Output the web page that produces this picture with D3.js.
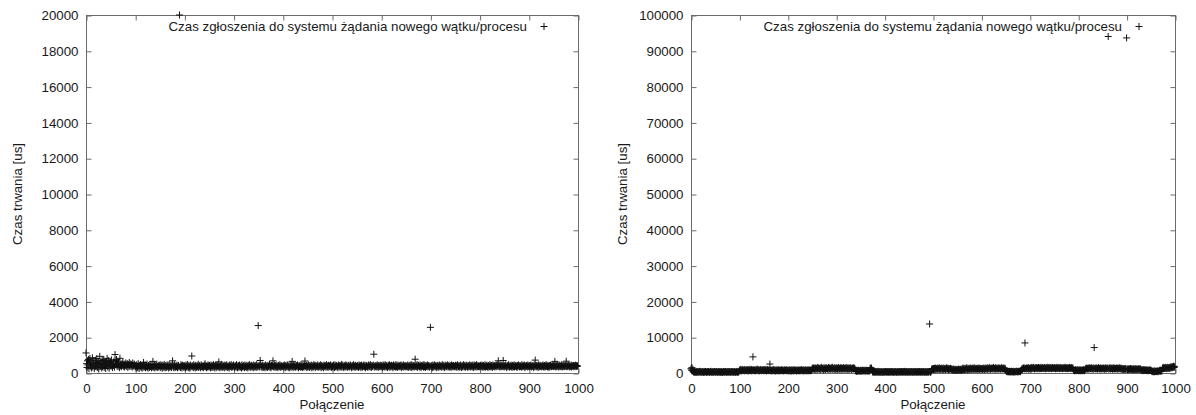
<!DOCTYPE html>
<html>
<head>
<meta charset="utf-8">
<script src="https://cdn.jsdelivr.net/npm/d3@7"></script>
<style>
html,body{margin:0;padding:0;background:#fff;}
svg text{font-family:"Liberation Sans",Arial,Helvetica,sans-serif;}
</style>
</head>
<body>
<svg id="chart" width="1196" height="415"></svg>
<script>
// ---------- data ----------
const legendLabel = "Czas zgłoszenia do systemu żądania nowego wątku/procesu";
const xLabel = "Połączenie";
const yLabel = "Czas trwania [us]";
const xTicks = [0,100,200,300,400,500,600,700,800,900,1000];
const leftYTicks = [0,2000,4000,6000,8000,10000,12000,14000,16000,18000,20000];
const rightYTicks = [0,10000,20000,30000,40000,50000,60000,70000,80000,90000,100000];

// left panel: duration [us] per connection index 0..999
const leftValues = [
1120,520,310,680,450,760,240,580,820,390,620,280,470,850,330,540,690,260,410,720,360,590,810,300,480,650,220,530,930,370,440,610,280,700,350,520,760,310,460,580,250,640,430,820,340,500,690,270,560,410,
620,380,730,460,300,540,420,650,330,1030,480,700,750,390,520,360,610,440,300,820,400,480,350,520,430,610,380,460,330,500,420,560,370,450,520,310,480,400,590,360,440,510,380,470,330,560,420,390,500,450,
340,410,280,460,370,300,520,390,250,430,360,480,310,400,270,440,350,590,320,380,460,290,410,350,500,330,270,420,380,310,470,360,430,290,400,340,650,380,310,450,280,370,420,330,490,360,300,410,350,440,
380,300,460,350,410,270,430,320,390,480,340,290,420,370,310,450,360,400,280,470,330,390,350,430,300,380,680,410,340,290,460,370,320,400,350,440,290,380,420,330,20000,360,310,470,390,280,430,350,400,320,
410,350,290,440,370,320,480,380,300,420,360,270,450,330,390,950,350,410,300,460,340,380,280,430,370,320,400,350,490,310,380,420,340,290,460,360,400,330,380,300,440,370,520,350,410,290,390,340,460,380,
330,420,370,290,450,380,310,400,350,470,320,390,280,430,360,410,300,380,450,340,620,370,290,420,360,330,480,390,310,400,350,440,290,380,420,330,460,370,310,400,350,280,440,390,360,470,320,410,340,380,
450,360,300,410,380,330,470,350,290,420,390,310,440,370,340,400,280,460,360,330,410,380,300,450,350,390,320,430,370,280,410,360,480,340,390,310,430,370,350,400,290,450,380,330,420,360,310,470,390,340,
2650,380,420,330,700,460,350,390,300,440,370,320,410,360,290,450,380,340,400,310,430,370,350,480,330,390,290,420,360,400,680,340,380,450,310,410,370,330,440,360,300,420,380,350,470,320,390,410,340,370,
360,410,330,450,380,300,420,370,340,460,390,310,400,350,290,440,380,330,410,650,360,300,430,390,350,470,320,380,410,340,450,370,290,420,360,390,330,480,350,400,310,440,370,330,410,670,380,350,420,300,
390,340,460,370,310,420,380,350,440,290,400,360,330,470,380,410,300,430,360,390,340,450,370,320,410,380,350,460,300,420,370,340,400,290,440,380,360,410,330,470,350,390,310,430,370,400,340,450,360,320,
410,370,330,440,380,300,460,350,390,420,340,370,290,450,380,410,330,400,360,480,320,390,440,350,300,420,370,340,460,380,410,310,390,350,430,370,330,450,400,360,290,420,380,340,470,350,390,310,430,370,
380,340,420,360,310,450,390,350,410,300,440,370,330,400,380,460,340,390,290,430,370,410,350,320,450,380,400,340,470,360,310,420,390,350,440,1050,380,330,410,360,400,340,460,370,310,420,390,350,430,380,
350,420,380,310,450,360,400,340,470,390,330,410,370,300,440,380,350,460,320,400,370,430,340,390,290,450,380,360,420,330,470,350,400,310,440,380,360,410,340,390,450,300,420,370,350,460,330,400,380,350,
420,360,390,330,450,380,310,410,370,440,350,300,460,390,340,420,380,330,400,770,360,410,350,470,320,390,430,370,340,450,380,300,410,360,390,440,330,470,350,400,310,420,380,360,450,340,390,410,330,380,
2550,390,350,420,300,440,370,330,460,380,410,340,390,290,430,360,400,320,450,380,350,410,370,330,470,390,340,420,360,300,440,380,410,350,390,460,330,400,370,340,430,380,310,450,360,400,340,420,390,350,
370,430,340,400,310,460,380,350,420,330,390,450,360,300,410,380,340,470,390,350,430,320,400,370,440,360,310,420,380,350,460,390,330,410,370,440,340,400,300,450,380,360,420,330,470,390,350,410,370,340,
400,360,430,340,390,450,370,310,420,380,350,460,330,400,370,440,360,300,410,390,350,470,380,340,420,370,310,450,390,360,410,340,400,380,430,350,460,390,680,370,410,330,440,380,360,420,350,400,700,370,
340,410,380,450,360,300,420,390,350,470,380,330,400,360,440,370,310,420,390,350,460,340,400,380,430,360,310,410,370,450,390,340,420,360,400,330,470,380,350,410,370,440,300,390,360,420,380,340,450,370,
390,350,420,370,440,330,400,360,410,380,300,450,370,720,390,340,420,360,400,310,460,380,350,430,370,390,340,410,380,450,360,320,420,390,350,470,380,400,340,430,370,310,410,360,440,390,350,400,380,420,
360,410,380,650,340,420,390,350,460,370,400,330,440,380,360,410,350,470,390,340,420,370,400,360,430,380,660,350,410,370,390,440,340,400,380,360,450,330,410,390,370,420,350,400,380,440,360,410,370,400
];

// right panel: duration [us] per connection index 0..999
const rightValues = [
1200,800,1500,600,1000,350,220,410,180,300,260,450,150,330,280,390,210,310,470,240,360,190,300,420,270,350,160,380,290,230,440,310,200,360,270,330,410,250,180,340,300,460,220,280,370,190,320,260,400,290,
340,210,300,430,260,180,370,290,350,240,410,200,320,280,360,150,300,390,250,330,220,440,280,190,350,310,260,400,230,300,370,180,330,270,420,240,290,360,210,310,380,250,200,340,280,450,230,320,260,350,
700,900,620,1050,780,560,850,950,680,740,1000,600,820,720,900,650,980,760,540,880,700,820,1050,640,760,930,580,860,4500,720,990,680,800,600,920,740,860,1080,660,780,900,560,840,720,1000,640,780,880,700,960,
750,620,900,820,680,1040,560,780,940,700,840,620,760,2500,680,900,560,740,820,640,980,700,600,860,760,520,880,680,800,620,940,720,560,840,700,780,620,900,660,760,840,580,720,880,640,800,700,920,600,760,
680,820,560,740,900,620,780,500,860,700,640,940,580,760,820,660,720,880,540,800,680,760,620,920,700,580,840,660,780,1000,620,740,860,560,700,820,640,900,720,600,780,840,560,700,960,680,760,620,880,720,
1100,1350,950,1250,1500,1050,1200,1400,900,1300,1150,1550,1000,1250,1450,1100,1300,950,1400,1200,1600,1050,1250,1350,900,1450,1150,1300,1000,1500,1200,1350,1100,1250,1550,950,1400,1150,1300,1050,1450,1200,1600,1000,1350,1250,1100,1500,950,1300,
1200,1450,1050,1350,1150,1550,1000,1300,1250,1450,900,1400,1150,1300,1050,1500,1200,1350,1000,1250,1450,1100,1550,1300,950,1400,1200,1050,1350,1500,1150,1250,1000,1400,1300,1100,1450,1200,1350,1050,600,780,450,680,520,800,560,700,620,480,
740,580,660,500,820,620,700,540,760,600,680,520,800,640,560,720,480,700,620,580,1300,1100,1500,1200,900,350,250,420,180,310,280,400,220,330,260,460,190,300,370,240,350,210,290,410,260,320,180,380,300,230,
340,270,410,200,310,360,250,440,290,180,330,390,260,300,420,220,350,280,190,370,310,240,400,270,330,160,360,290,430,210,300,380,250,340,200,410,280,320,230,360,290,450,190,310,270,400,240,350,220,330,
280,390,210,340,260,420,300,180,360,250,330,410,230,300,370,200,290,440,260,320,350,190,400,280,310,240,380,220,340,290,410,260,300,230,360,280,200,390,310,270,340,250,380,13700,300,220,350,900,1200,1050,
1100,1300,950,1250,1050,1400,900,1200,1150,1350,1000,1250,1100,1450,950,1300,1050,1200,1350,900,1150,1400,1000,1250,1100,1300,950,1200,1450,1050,1150,1350,900,1250,1100,1000,1300,1200,950,1150,850,1000,750,1100,900,800,1050,700,950,850,
1000,780,900,1100,820,950,700,1050,880,760,1200,900,1400,1000,1250,800,1300,1100,950,1450,1050,850,1350,1200,900,1300,1000,1150,1400,950,1250,1100,1350,1000,1200,1450,1050,1300,1150,1000,1200,1350,1050,1250,1100,1400,1000,1300,1150,1250,
1100,1300,1000,1250,1150,1400,950,1200,1350,1050,1300,1150,1450,1000,1250,1350,1100,1500,1200,1050,1400,1250,1100,1350,1200,1550,1050,1300,1150,1450,1000,1250,1400,1150,1300,1100,1450,1200,1350,1050,1300,1200,1500,1100,1250,1400,1150,1350,1050,1300,
900,600,450,380,520,300,420,350,480,260,400,330,500,280,440,360,250,470,320,410,290,450,370,520,310,400,330,480,360,420,500,380,700,900,1200,1050,1350,1250,1500,1150,8400,1300,1200,1400,1100,1350,1250,1500,1050,1300,
1200,1400,1300,1550,1150,1350,1450,1250,1600,1300,1100,1450,1350,1250,1500,1200,1400,1300,1550,1150,1350,1450,1250,1600,1300,1200,1500,1400,1350,1250,1550,1300,1150,1450,1400,1250,1600,1350,1200,1500,1300,1450,1250,1400,1550,1200,1350,1500,1300,1400,
1250,1500,1350,1200,1450,1300,1600,1250,1400,1350,1500,1200,1450,1300,1550,1250,1400,1350,1200,1500,1300,1450,1350,1600,1250,1400,1300,1500,1200,1450,1350,1250,1550,1300,1400,1200,1500,1350,1250,1450,900,700,850,600,750,950,650,800,700,900,
750,600,850,700,900,650,800,750,600,850,700,900,800,650,950,1100,1300,1150,1400,1250,1050,1350,1200,1450,1100,1300,1250,1500,1150,1350,1200,1050,1400,7100,1250,1300,1150,1450,1200,1350,1100,1250,1500,1200,1300,1050,1400,1250,1150,1350,
1300,1150,1400,1250,1050,1350,1200,1450,1100,1300,1250,1400,94000,1150,1350,1200,1500,1100,1300,1250,1400,1050,1350,1200,1450,1150,1300,1250,1100,1400,1200,1350,1050,1300,1250,1450,1150,1200,1350,1100,1300,1000,1250,1150,950,1200,1100,1050,1250,1000,
93600,1100,950,1200,1050,900,1150,1000,1250,950,1100,1050,900,1200,1000,1150,950,1050,1200,900,1100,1000,1150,950,1050,1200,900,1100,1000,1150,850,700,950,800,650,900,750,850,700,800,900,750,650,850,700,800,600,750,900,700,
800,650,500,400,550,350,450,600,300,500,420,550,380,480,600,350,520,450,650,800,500,700,600,550,1300,1500,1200,1600,1400,1250,1550,1350,1450,1200,1600,1300,1500,1400,1250,1550,1350,1700,1450,1600,1800,1500,1650,1900,1550,1750
];

// ---------- drawing ----------
const svg = d3.select("#chart");
const axisColor = "#6b6b6b";
const textColor = "#1a1a1a";

function panel(cfg) {
  const x = d3.scaleLinear().domain([0, 1000]).range([cfg.x0, cfg.x1]);
  const y = d3.scaleLinear().domain([0, cfg.yMax]).range([373, 15]);
  const g = svg.append("g");

  // border
  g.append("rect")
    .attr("x", cfg.x0 + 0.5).attr("y", 15.5)
    .attr("width", cfg.x1 - cfg.x0).attr("height", 373 - 15)
    .attr("fill", "none").attr("stroke", axisColor).attr("stroke-width", 1);

  const styleAxis = sel => {
    sel.select(".domain").remove();
    sel.selectAll(".tick line").attr("stroke", axisColor);
    sel.selectAll(".tick text").attr("fill", textColor)
      .style("font-family", "'Liberation Sans', Arial, sans-serif").style("font-size", "13.3px");
  };

  g.append("g").attr("transform", `translate(0.5,373.5)`)
    .call(d3.axisBottom(x).tickValues(xTicks).tickSize(-5).tickPadding(10).tickFormat(d3.format("d")))
    .call(styleAxis);
  g.append("g").attr("transform", `translate(0.5,15.5)`)
    .call(d3.axisTop(x).tickValues(xTicks).tickSize(-5).tickFormat(""))
    .call(styleAxis);
  g.append("g").attr("transform", `translate(${cfg.x0 + 0.5},0.5)`)
    .call(d3.axisLeft(y).tickValues(cfg.yTicks).tickSize(-5).tickPadding(8).tickFormat(d3.format("d")))
    .call(styleAxis);
  g.append("g").attr("transform", `translate(${cfg.x1 + 0.5},0.5)`)
    .call(d3.axisRight(y).tickValues(cfg.yTicks).tickSize(-5).tickFormat(""))
    .call(styleAxis);

  // points
  const plus = (sel, s) => sel.attr("d", `M${-s},0H${s}M0,${-s}V${s}`);
  g.append("g").selectAll("path").data(cfg.values).join("path")
    .attr("transform", (d, i) => `translate(${x(i)},${y(d)})`)
    .call(plus, 3.5)
    .attr("stroke", "#111").attr("stroke-width", 1).attr("fill", "none");

  // legend
  g.append("text").attr("x", cfg.legendX).attr("y", 31)
    .attr("text-anchor", "end").attr("fill", textColor).attr("font-size", 13.3)
    .text(legendLabel);
  g.append("path").attr("transform", `translate(${cfg.legendX + 17},26.5)`)
    .call(plus, 3.5).attr("stroke", "#111").attr("fill", "none");

  // axis labels
  g.append("text").attr("x", (cfg.x0 + cfg.x1) / 2).attr("y", 409)
    .attr("text-anchor", "middle").attr("fill", textColor).attr("font-size", 13.3)
    .text(xLabel);
  g.append("text").attr("transform", `translate(${cfg.yLabelX},194) rotate(-90)`)
    .attr("text-anchor", "middle").attr("fill", textColor).attr("font-size", 13.3)
    .text(yLabel);
}

panel({x0: 86, x1: 578, yMax: 20000, yTicks: leftYTicks, values: leftValues, legendX: 527, yLabelX: 22});
panel({x0: 691, x1: 1175, yMax: 100000, yTicks: rightYTicks, values: rightValues, legendX: 1122, yLabelX: 627});
</script>
</body>
</html>
